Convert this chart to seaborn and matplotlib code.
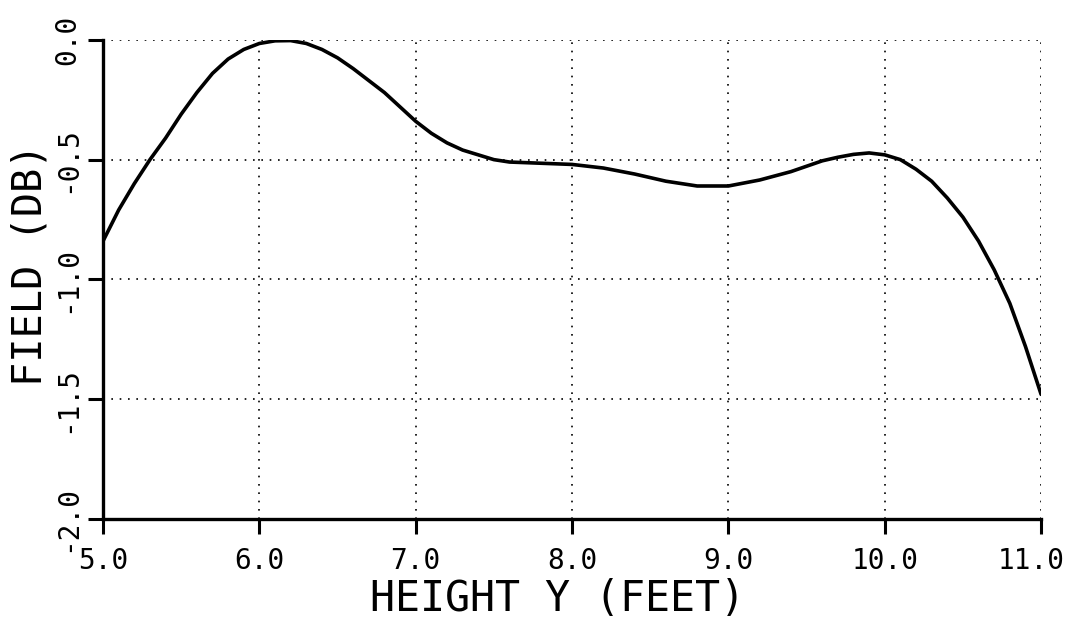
import numpy as np
import pandas as pd
import matplotlib
matplotlib.use('Agg')
import matplotlib.pyplot as plt
import matplotlib.transforms as mtransforms
import seaborn as sns

# valores
height_ft = [5.0, 5.1, 5.2, 5.3, 5.4, 5.5, 5.6, 5.7, 5.8, 5.9, 6.0, 6.1, 6.2, 6.3,
             6.4, 6.5, 6.6, 6.7, 6.8, 6.9, 7.0, 7.1, 7.2, 7.3, 7.4, 7.5, 7.6, 7.8,
             8.0, 8.2, 8.4, 8.6, 8.8, 9.0, 9.2, 9.4, 9.6, 9.7, 9.8, 9.9, 10.0, 10.1,
             10.2, 10.3, 10.4, 10.5, 10.6, 10.7, 10.8, 10.9, 11.0]
field_db = [-0.84, -0.71, -0.60, -0.50, -0.41, -0.31, -0.22, -0.14, -0.08, -0.04,
            -0.015, -0.004, -0.003, -0.015, -0.04, -0.075, -0.12, -0.17, -0.22,
            -0.28, -0.34, -0.39, -0.43, -0.46, -0.48, -0.50, -0.51, -0.515,
            -0.52, -0.535, -0.56, -0.59, -0.61, -0.61, -0.585, -0.55, -0.505,
            -0.49, -0.478, -0.472, -0.48, -0.50, -0.54, -0.59, -0.66, -0.74,
            -0.84, -0.96, -1.10, -1.28, -1.48]

x_ticks = [5.0, 6.0, 7.0, 8.0, 9.0, 10.0, 11.0]
y_ticks = [-2.0, -1.5, -1.0, -0.5, 0.0]

df = pd.DataFrame({'height': height_ft, 'field': field_db})

sns.set_style('ticks')
plt.rcParams['font.family'] = ['DejaVu Sans Mono']
plt.rcParams['text.color'] = 'black'
plt.rcParams['axes.labelcolor'] = 'black'
plt.rcParams['xtick.color'] = 'black'
plt.rcParams['ytick.color'] = 'black'

fig = plt.figure(figsize=(10.69, 6.23), dpi=100)
ax = fig.add_axes([0.0964, 0.167, 0.8775, 0.769])

sns.lineplot(data=df, x='height', y='field', color='black', linewidth=2.6, ax=ax)

ax.set_xlim(5.0, 11.0)
ax.set_ylim(-2.0, 0.0)

ax.grid(True, color='black', linestyle=(0, (1, 4)), linewidth=1.2)
for s in ['top', 'right']:
    ax.spines[s].set_visible(False)
for s in ['left', 'bottom']:
    ax.spines[s].set_linewidth(2.4)
    ax.spines[s].set_color('black')
ax.tick_params(axis='both', direction='out', length=11, width=2.2,
               color='black', labelsize=20)
ax.tick_params(axis='x', pad=9)
ax.tick_params(axis='y', pad=5, labelrotation=90)

ax.set_xticks(x_ticks)
ax.set_yticks(y_ticks)
ax.set_xticklabels([f'{v:.1f}' for v in x_ticks])
ax.set_yticklabels([f'{v:.1f}' for v in y_ticks], va='center', ha='right')
# la ultima etiqueta queda pegada al borde derecho
last = ax.get_xticklabels()[-1]
last.set_ha('right')
last.set_transform(last.get_transform() +
                   mtransforms.ScaledTranslation(0.24, 0, fig.dpi_scale_trans))

ax.set_xlabel('HEIGHT Y (FEET)', fontsize=30)
ax.set_ylabel('FIELD (DB)', fontsize=29)
ax.xaxis.set_label_coords(0.484, -0.124)
ax.yaxis.set_label_coords(-0.056, 0.53)

fig.savefig('out.png', dpi=100)
